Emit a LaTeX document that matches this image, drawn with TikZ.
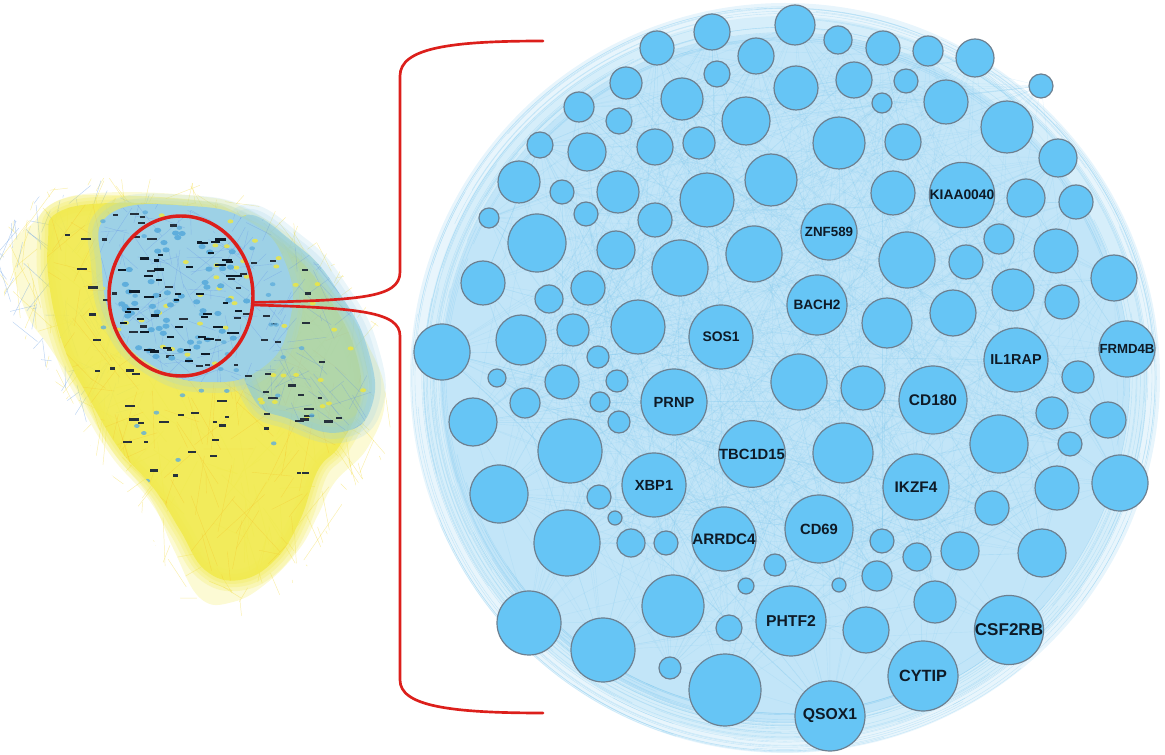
\documentclass[tikz,border=0pt]{standalone}
\usepackage{fontspec}
\setsansfont{Liberation Sans}
\usetikzlibrary{shapes.geometric}
\definecolor{GeneBlue}{HTML}{66C5F5}
\definecolor{GeneRim}{HTML}{6C8091}
\definecolor{LabelInk}{HTML}{0E1A26}
\definecolor{EdgeBlue}{HTML}{7CC8F0}
\definecolor{HaloPale}{HTML}{E8F5FC}
\definecolor{HaloMid}{HTML}{D6EEFA}
\definecolor{HaloDeep}{HTML}{C2E5F8}
\definecolor{NetYellow}{HTML}{F0E83A}
\definecolor{NetTeal}{HTML}{86C8DE}
\definecolor{NetSky}{HTML}{9DD1E6}
\definecolor{NetDot}{HTML}{5FAEDC}
\definecolor{ZoomRed}{HTML}{DC1F1B}

% unlabeled genes: index/x/y/radius (pixels)
\def\genelist{1/657/48/17, 2/626/83/16, 3/579/107/15, 4/619/121/13, 5/655/147/18,
  6/540/145/13, 7/587/152/19, 8/519/182/21, 9/562/192/12, 10/618/192/21,
  11/489/218/10, 12/586/214/12, 13/655/220/17, 14/537/243/29, 15/616/250/19,
  16/680/268/28, 17/483/283/22, 18/549/299/14, 19/588/288/17, 20/638/327/27,
  21/442/352/28, 22/521/340/25, 23/573/330/16, 24/598/357/11, 25/497/378/9,
  26/562/382/17, 27/617/381/11, 28/712/32/18, 29/795/25/20, 30/838/40/14,
  31/883/48/17, 32/928/51/15, 33/756/56/18, 34/717/74/13, 35/682/99/21,
  36/796/88/22, 37/854/80/18, 38/906/81/12, 39/882/103/10, 40/746/121/24,
  41/699/143/16, 42/839/143/26, 43/903/142/18, 44/771/180/26, 45/707/200/27,
  46/893/193/22, 47/754/254/28, 48/907/260/28, 49/887/323/25, 50/975/58/19,
  51/1041/86/12, 52/946/102/22, 53/1007/127/26, 54/1058/158/19, 55/1026/198/19,
  56/1076/202/17, 57/999/239/15, 58/1056/251/22, 59/966/262/17, 60/1114/278/23,
  61/1013/290/21, 62/1062/302/17, 63/953/313/23, 64/1078/377/16, 65/863/388/22,
  66/1052/413/16, 67/1108/420/18, 68/999/444/29, 69/1070/444/12, 70/843/453/30,
  71/1057/488/22, 72/1120/483/28, 73/992/508/17, 74/917/557/14, 75/960/551/19,
  76/1042/553/24, 77/935/602/21, 78/799/382/28, 79/882/541/12, 80/631/543/14,
  81/666/543/12, 82/775/565/11, 83/746/586/8, 84/839/585/7, 85/877/576/15,
  86/673/606/31, 87/729/628/13, 88/866/630/23, 89/670/668/11, 90/725/690/36,
  91/473/422/24, 92/525/403/15, 93/600/402/10, 94/619/422/11, 95/570/451/32,
  96/499/494/29, 97/599/497/12, 98/615/518/7, 99/567/543/33, 100/529/623/32,
  101/603/650/32}
% labeled genes: index/name/x/y/radius/font size
\def\hublist{102/ZNF589/829/232/28/10, 103/KIAA0040/962/195/32/10.4,
  104/BACH2/817/305/30/10.2, 105/SOS1/721/337/32/10.4, 106/IL1RAP/1016/360/32/10.8,
  107/FRMD4B/1127/349/28/9.9, 108/PRNP/674/402/33/11, 109/CD180/933/400/34/11.6,
  110/TBC1D15/752/454/33/11.1, 111/XBP1/654/485/32/11, 112/IKZF4/916/487/33/11.5,
  113/ARRDC4/724/539/32/11.4, 114/CD69/819/529/34/11.1, 115/PHTF2/791/621/35/11.8,
  116/CSF2RB/1009/630/34/12.8, 117/CYTIP/923/676/35/12.2, 118/QSOX1/830/716/35/11.8}

\def\fuzzblob{plot[smooth cycle,tension=.7] coordinates {(22,212) (60,186) (110,178)
  (200,184) (245,196) (305,232) (350,285) (384,338) (402,397) (384,455) (350,492)
  (332,525) (312,560) (278,596) (236,617) (192,612) (160,556) (138,506) (98,458)
  (70,405) (38,355) (10,315) (0,250)}}
\def\outerblob{plot[smooth cycle,tension=.7] coordinates {(33,223) (60,200) (110,195)
  (200,201) (235,212) (290,245) (335,295) (368,345) (385,397) (368,447) (335,482)
  (318,515) (300,548) (268,582) (233,602) (200,598) (173,548) (150,498) (110,448)
  (83,398) (50,348) (25,310) (12,250)}}
\def\coreblob{plot[smooth cycle,tension=.7] coordinates {(57,213) (110,203) (200,207)
  (240,218) (290,250) (330,300) (355,350) (360,400) (340,445) (318,470) (300,520)
  (275,560) (240,580) (205,570) (180,530) (155,490) (120,450) (90,400) (65,350)
  (50,290) (48,240)}}
\def\tealcore{plot[smooth cycle,tension=.8] coordinates {(110,214) (190,206) (250,222)
  (285,262) (290,320) (262,368) (205,382) (150,364) (115,325) (102,268)}}
\def\tealwing{plot[smooth cycle,tension=.8] coordinates {(240,218) (298,246) (340,294)
  (368,350) (372,405) (342,432) (292,420) (250,392) (232,300)}}

\begin{document}
\begin{tikzpicture}[x=0.75pt,y=-0.75pt,
  gene/.style={circle,draw=GeneRim,fill=GeneBlue,line width=0.9pt,inner sep=0pt,minimum size=#1},
  hair/.style={EdgeBlue,line width=0.3pt,opacity=0.2},
  soft/.style={line width=#1,line join=round,opacity=.2},
  lensshape/.style={ellipse,draw=ZoomRed,line width=2.6pt,inner sep=0pt,minimum width=108pt,minimum height=120pt},
  bracket/.style={ZoomRed,line width=2pt,line cap=round},
]
\useasboundingbox (0,0) rectangle (1165,755);
\pgfmathsetseed{2718}

% ---- overview network (left) ----
\fill[NetYellow!22] \outerblob;
\begin{scope}
  \clip \fuzzblob;
  \foreach \k in {1,...,450}{
    \pgfmathsetmacro\ax{0+rnd*400}
    \pgfmathsetmacro\ay{178+rnd*440}
    \pgfmathsetmacro\bx{\ax-40+rnd*80}
    \pgfmathsetmacro\by{\ay-60+rnd*120}
    \draw[NetYellow!85!orange,line width=.35pt,opacity=.4] (\ax,\ay) -- (\bx,\by);
  }
  \foreach \k in {1,...,110}{
    \pgfmathsetmacro\ax{0+rnd*140}
    \pgfmathsetmacro\ay{190+rnd*220}
    \pgfmathsetmacro\bx{\ax-30+rnd*60}
    \pgfmathsetmacro\by{\ay-50+rnd*100}
    \draw[NetTeal!80!blue,line width=.35pt,opacity=.45] (\ax,\ay) -- (\bx,\by);
  }
\end{scope}
\foreach \w in {16,10,5}{ \draw[NetYellow,soft=\w] \coreblob; }
\fill[NetYellow!90,opacity=.9] \coreblob;
\begin{scope}
  \clip \coreblob;
  \foreach \k in {1,...,220}{
    \pgfmathsetmacro\ax{40+rnd*330}
    \pgfmathsetmacro\ay{200+rnd*390}
    \pgfmathsetmacro\bx{\ax-50+rnd*100}
    \pgfmathsetmacro\by{\ay-70+rnd*140}
    \draw[NetYellow!60!orange,line width=.3pt,opacity=.35] (\ax,\ay) -- (\bx,\by);
  }
\end{scope}
\foreach \w in {16,9}{ \draw[NetSky,soft=\w] \tealwing; }
\fill[NetTeal,opacity=.6] \tealwing;
\foreach \w in {16,9}{ \draw[NetSky,soft=\w] \tealcore; }
\fill[NetSky] \tealcore;
\begin{scope}
  \clip \tealcore \tealwing;
  \foreach \k in {1,...,220}{
    \pgfmathsetmacro\ax{100+rnd*280}
    \pgfmathsetmacro\ay{200+rnd*235}
    \pgfmathsetmacro\bx{\ax-40+rnd*80}
    \pgfmathsetmacro\by{\ay-40+rnd*80}
    \draw[NetTeal!70!blue,line width=.3pt,opacity=.35] (\ax,\ay) -- (\bx,\by);
  }
  \foreach \k in {1,...,70}{
    \pgfmathsetmacro\ax{100+rnd*280}
    \pgfmathsetmacro\ay{200+rnd*235}
    \fill[NetYellow,opacity=.8] (\ax,\ay) ellipse [x radius=3, y radius=2];
  }
\end{scope}
% gene tags of the overview
\begin{scope}
  \clip \coreblob;
  \foreach \k in {1,...,95}{
    \pgfmathsetmacro\lx{60+rnd*290}
    \pgfmathsetmacro\ly{210+rnd*280}
    \pgfmathsetmacro\lw{2+rnd*3}
    \fill[LabelInk!90] (\lx-\lw,\ly-1.1) rectangle (\lx+\lw,\ly+1.1);
  }
  \foreach \k in {1,...,35}{
    \pgfmathsetmacro\lx{90+rnd*250}
    \pgfmathsetmacro\ly{200+rnd*300}
    \fill[NetDot,opacity=.8] (\lx,\ly) ellipse [x radius=2.8, y radius=2];
  }
\end{scope}
\foreach \k in {1,...,55}{
  \pgfmathsetmacro\ang{rnd*360}
  \pgfmathsetmacro\rr{sqrt(rnd)}
  \fill[NetDot] ({181+66*\rr*cos(\ang)},{296+74*\rr*sin(\ang)}) ellipse [x radius=3.6, y radius=2.6];
}
\foreach \k in {1,...,45}{
  \pgfmathsetmacro\ang{rnd*360}
  \pgfmathsetmacro\rr{sqrt(rnd)}
  \pgfmathsetmacro\lw{2.5+rnd*3.5}
  \fill[LabelInk] ({181+64*\rr*cos(\ang)-\lw},{296+72*\rr*sin(\ang)-1.1}) rectangle ++(2*\lw,2.2);
}

% ---- zoom marker and bracket ----
\node[lensshape] (lens) at (181,296) {};
\coordinate (topend) at (543,41);
\coordinate (botend) at (543,713);
\draw[bracket] (lens.-5) .. controls (360,300) and (400,298) .. (400,272)
  -- (400,76) .. controls (400,48) and (450,41) .. (topend);
\draw[bracket] (lens.-7) .. controls (360,308) and (400,312) .. (400,336)
  -- (400,680) .. controls (400,706) and (450,713) .. (botend);

% ---- enlarged module (right) ----
\fill[HaloPale] (785,378) circle[radius=375];
\fill[HaloMid] (785,378) circle[radius=362];
\fill[HaloDeep] (785,378) circle[radius=345];
\foreach \i/\x/\y/\r in \genelist { \coordinate (p\i) at (\x,\y); }
\foreach \i/\nm/\x/\y/\r/\s in \hublist { \coordinate (p\i) at (\x,\y); }
\foreach \k in {1,...,900}{
  \pgfmathtruncatemacro\ea{random(1,118)}
  \pgfmathtruncatemacro\eb{random(1,118)}
  \draw[hair] (p\ea) -- (p\eb);
}
\foreach \k in {1,...,90}{
  \pgfmathsetmacro\sa{rnd*360}
  \pgfmathsetmacro\rr{335+rnd*40}
  \draw[hair,opacity=.35] (785,378) ++(\sa:\rr) arc[start angle=\sa, delta angle=40+rnd*70, radius=\rr];
}
\foreach \i/\x/\y/\r in \genelist {
  \node[gene=\r*1.5pt] (g\i) at (p\i) {};
}
\foreach \i/\nm/\x/\y/\r/\s in \hublist {
  \node[gene=\r*1.5pt,text=LabelInk,font=\sffamily\bfseries\fontsize{\s}{\s}\selectfont] (\nm) at (p\i) {\nm};
}
\end{tikzpicture}
\end{document}
